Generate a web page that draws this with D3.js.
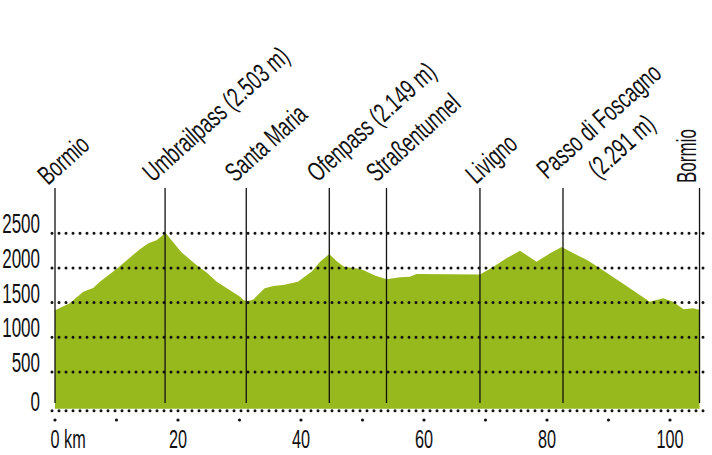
<!DOCTYPE html>
<html><head><meta charset="utf-8">
<script src="https://cdn.jsdelivr.net/npm/d3@7"></script>
<style>
html,body{margin:0;padding:0;background:#fff;}
svg text{font-family:"Liberation Sans",Arial,sans-serif;fill:#111;}
</style></head>
<body><svg id="chart" width="712" height="455"></svg>
<script>
// ---- data ----
const distanceKm = [0,2.4,4.6,6.2,7.3,10.2,13.8,15.2,16.5,18.0,20.5,23.0,24.7,26.3,30.1,30.6,31.2,32.2,34.1,35.5,37.1,39.5,41.8,43.1,44.6,45.9,47.0,49.1,50.1,52.0,53.9,56.1,57.7,58.8,69.1,71.3,73.4,75.6,78.3,80.5,82.4,84.3,86.5,88.6,91.9,95.1,96.7,97.8,98.9,100.5,102.2,103.8,104.8];
const elevationM = [1390,1490,1657,1710,1800,2000,2270,2354,2400,2503,2230,2042,1930,1801,1585,1537,1520,1540,1706,1740,1753,1800,1950,2089,2200,2089,2017,1990,1970,1890,1836,1864,1873,1912,1905,2017,2138,2248,2089,2210,2300,2210,2114,1994,1801,1610,1513,1537,1562,1513,1403,1418,1393];
const placeNames = ["Bormio","Umbrailpass (2.503 m)","Santa Maria","Ofenpass (2.149 m)","Straßentunnel","Livigno","Passo di Foscagno|(2.291 m)","Bormio"];
const placeKm = [0,17.9,31.1,44.6,53.9,69.1,82.6,104.8];
const yTickValues = [0,500,1000,1500,2000,2500];
const yTickLabels = ["0","500","1000","1500","2000","2500"];
const xTickValues = [0,20,40,60,80,100];
const xTickLabels = ["0 km","20","40","60","80","100"];
const xMinorTicks = [0,10,20,30,40,50,60,70,80,90,100];

// ---- layout ----
const svg = d3.select("#chart");
const x = d3.scaleLinear().domain([0,100]).range([55,670]);
const y = d3.scaleLinear().domain([0,2500]).range([406.7,233.2]);
const green = "#98b91e";
const SX = 0.63;
const SXL = 0.68;
const baseY = y(0) + 4;   // bottom dotted line
const gridX0 = 52, gridX1 = 707;

// area
const area = d3.area()
  .x((d,i)=>x(distanceKm[i]))
  .y0(y(0)+2)
  .y1((d)=>y(d))
  .curve(d3.curveLinear);
svg.append("path").datum(elevationM).attr("d",area).attr("fill",green);

// dotted grid lines
const gridYs = yTickValues.map(v => v===0 ? baseY : y(v));
svg.append("g").selectAll("line").data(gridYs).join("line")
  .attr("x1",gridX0).attr("x2",gridX1)
  .attr("y1",d=>d).attr("y2",d=>d)
  .attr("stroke","#111").attr("stroke-width",3)
  .attr("stroke-linecap","round").attr("stroke-dasharray","0,7");

// y labels
svg.append("g").selectAll("text").data(yTickValues).join("text")
  .attr("transform",(d,i)=>`translate(40,${gridYs[i]}) scale(${SX},1)`)
  .attr("text-anchor","end").attr("font-size",27)
  .text((d,i)=>yTickLabels[i]);

// x minor dots
svg.append("g").selectAll("circle").data(xMinorTicks).join("circle")
  .attr("cx",d=>x(d)).attr("cy",420).attr("r",1.6).attr("fill","#111");

// x labels
svg.append("g").selectAll("text").data(xTickValues).join("text")
  .attr("transform",(d,i)=> i===0 ? `translate(${x(d)-4.5},448) scale(${SX+0.02},1)` : `translate(${x(d)},448) scale(${SX+0.02},1)`)
  .attr("text-anchor",(d,i)=> i===0 ? "start" : "middle")
  .attr("font-size",25)
  .text((d,i)=>xTickLabels[i]);

// vertical place lines
svg.append("g").selectAll("line").data(placeKm).join("line")
  .attr("x1",d=>x(d)).attr("x2",d=>x(d))
  .attr("y1",188).attr("y2",403)
  .attr("stroke","#111").attr("stroke-width",1.3);

// place labels
const labelDx = [-7,-12,-11,-12,-10,-4,-16,-4];
const labelY  = [186,183,183,183,183,185,180,183];
placeNames.forEach((name,i)=>{
  const last = i===placeNames.length-1;
  const rot = last ? -90 : -42;
  const sx = last ? SX : SXL;
  const g = svg.append("g")
    .attr("transform",`translate(${x(placeKm[i])+labelDx[i]},${labelY[i]}) rotate(${rot}) scale(${sx},1)`);
  const lines = name.split("|");
  const t1 = g.append("text").attr("font-size",27).attr("x",0).attr("y",0).text(lines[0]);
  if(lines.length>1){
    const t2 = g.append("text").attr("font-size",27).attr("y",34).text(lines[1]);
    const L1 = t1.node().getComputedTextLength();
    const L2 = t2.node().getComputedTextLength();
    t2.attr("x",(L1-L2)/2);
  }
});
</script></body></html>
